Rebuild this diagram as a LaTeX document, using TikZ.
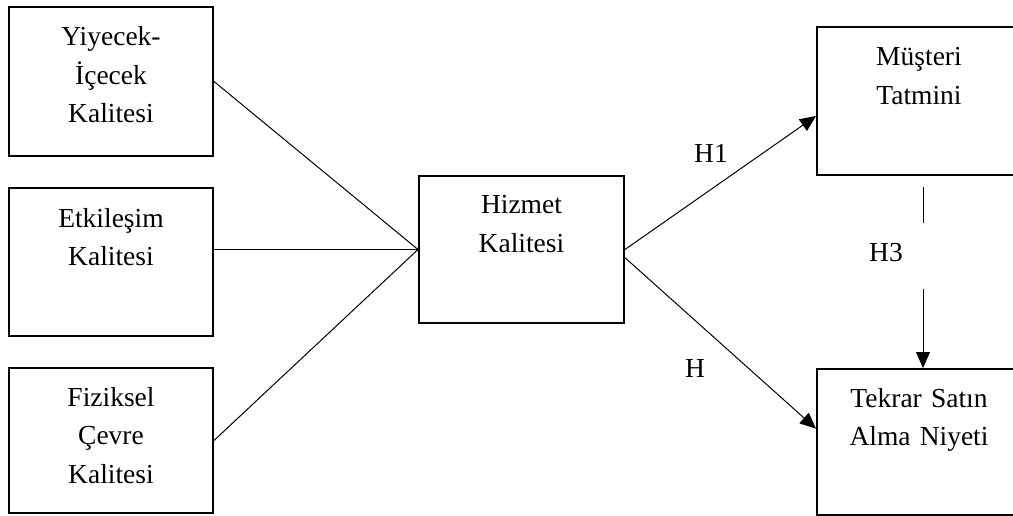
\documentclass[tikz,border=0pt]{standalone}
\usepackage{fontspec}
\setmainfont{Liberation Serif}
\usetikzlibrary{arrows.meta,calc}
\begin{document}
\begin{tikzpicture}[x=1pt,y=-1pt,
  box/.style={draw,line width=2pt,inner sep=0pt,anchor=north west,
              minimum width=204pt},
  txt/.style={font=\fontsize{27.5}{38.5}\selectfont,text width=200pt,
              align=center,inner sep=0pt,anchor=base},
  lbl/.style={font=\fontsize{27.5}{30}\selectfont,inner sep=0pt},
  link/.style={line width=1pt},
  arr/.style={line width=1pt,-{Triangle[length=16pt,width=14pt]}}]
\path[use as bounding box,clip] (0,0) rectangle (1013,516);

% antecedent boxes
\node[box,minimum height=149pt] (b1) at (8,6) {};
\node[box,minimum height=148pt] (b2) at (8,187) {};
\node[box,minimum height=145pt] (b3) at (8,367) {};
\node[txt] (t1) at ($(b1.north)+(0,40)$) {Yiyecek-\\İçecek\\Kalitesi};
\node[txt] (t2) at ($(b2.north)+(0,40)$) {Etkileşim\\Kalitesi};
\node[txt] (t3) at ($(b3.north)+(0,39)$) {Fiziksel\\Çevre\\Kalitesi};

% central construct
\node[box,minimum width=205pt,minimum height=147pt] (hk) at (418,175) {};
\node[txt] (hkt) at ($(hk.north)+(0,39)$) {Hizmet\\Kalitesi};

% outcome boxes (right sides run past the page edge)
\node[box,minimum height=148pt] (ms) at (816,26) {};
\node[box,minimum height=146pt] (tk) at (816,368) {};
\node[txt] (mst) at ($(ms.north)+(0,40)$) {Müşteri\\Tatmini};
\node[txt] (tkt) at ($(tk.north)+(0,39)$) {Tekrar Satın\\Alma Niyeti};

% antecedents into service quality
\draw[link] (b1.east) -- (hk.west);
\draw[link] (b2.east |- hk.west) -- (hk.west);
\draw[link] (b3.east) -- (hk.west);

% hypotheses
\draw[arr] (hk.east) -- ($(ms.north west)!0.6!(ms.south west)$);
\draw[arr] ($(hk.north east)!0.555!(hk.south east)$) -- ($(tk.north west)!0.41!(tk.south west)$);

\coordinate (h3a) at (923,187);
\coordinate (h3b) at (923,223);
\coordinate (h3c) at (923,289);
\draw[link] (h3a) -- (h3b);
\draw[arr] (h3c) -- (h3c |- tk.north);

\node[lbl] (h1) at (711,153) {H1};
\node[lbl] (h2) at (695,368) {H};
\node[lbl] (h3) at (886,253) {H3};
\end{tikzpicture}
\end{document}
